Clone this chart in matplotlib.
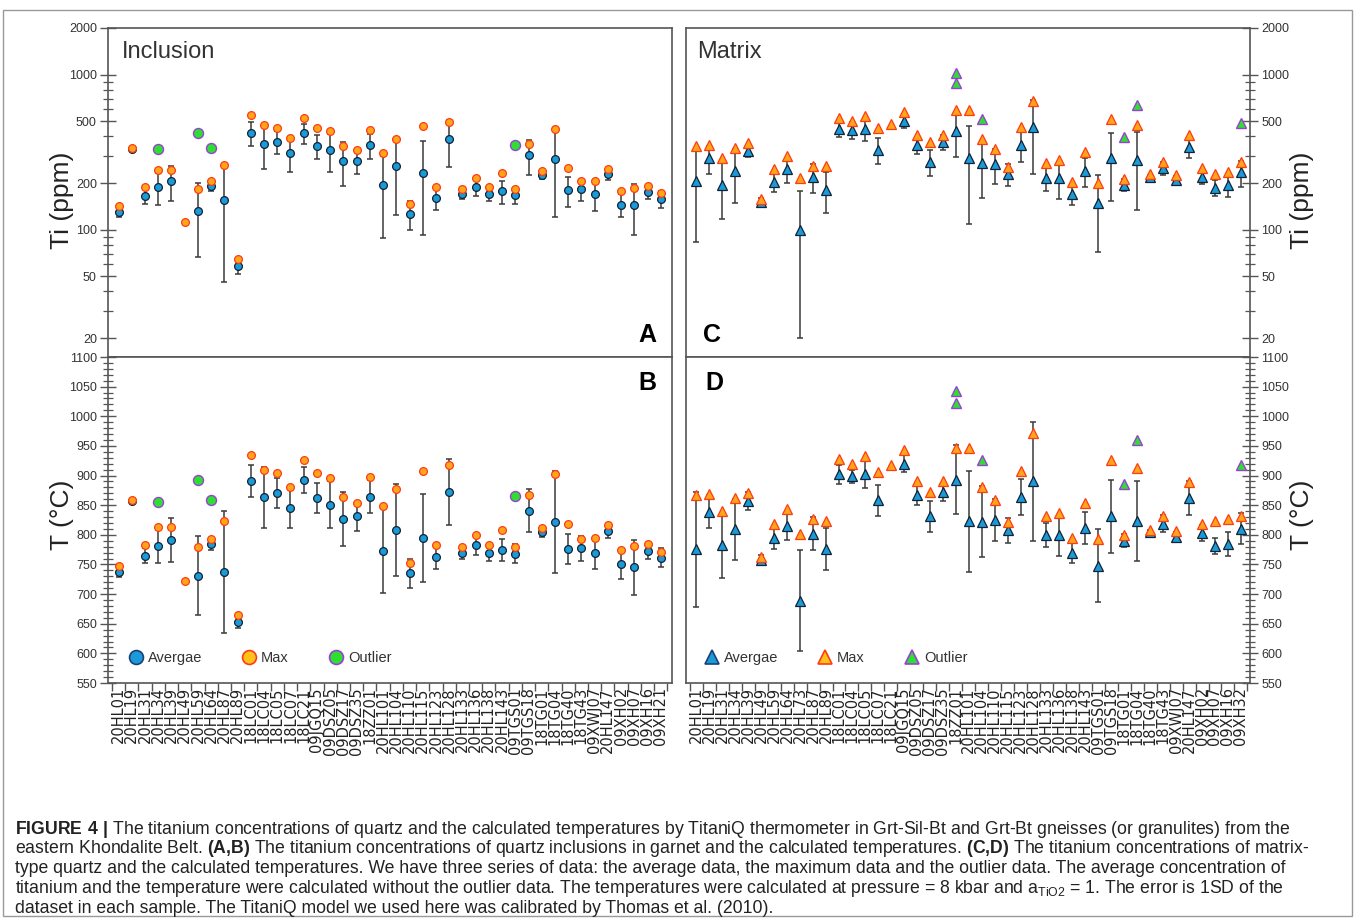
import numpy as np
import matplotlib
matplotlib.use('Agg')
import matplotlib.pyplot as plt
from matplotlib import font_manager
from matplotlib.lines import Line2D
from matplotlib.patches import Rectangle
from matplotlib.ticker import FixedLocator, NullFormatter, MultipleLocator, LogLocator

nan = np.nan

# ---- Inclusion (quartz in garnet) ----
inc_samples = ['20HL01', '20HL19', '20HL31', '20HL34', '20HL39', '20HL49', '20HL59', '20HL64',
               '20HL87', '20HL89', '18LC01', '18LC04', '18LC05', '18LC07', '18LC21', '09JGQ15',
               '09DSZ05', '09DSZ17', '09DSZ35', '18ZZ01', '20HL101', '20HL104', '20HL110',
               '20HL115', '20HL123', '20HL128', '20HL133', '20HL136', '20HL138', '20HL143',
               '09TGS01', '09TGS18', '18TG01', '18TG04', '18TG40', '18TG43', '09XWJ07',
               '20HL147', '09XH02', '09XH07', '09XH16', '09XH21']
inc_ti_avg = [130, 330, 165, 189, 206, nan, 133, 192, 156, 58, 420, 358, 368, 312, 420, 347,
              325, 278, 278, 352, 194, 257, 127, 232, 161, 383, 170, 188, 169, 177, 167, 302,
              225, 285, 180, 182, 171, 228, 145, 145, 175, 158]
inc_ti_sd = [10, 5, 18, 44, 52, nan, 66, 13, 110, 6, 75, 110, 62, 77, 62, 62, 90, 88, 50, 65,
             105, 132, 27, 140, 26, 130, 12, 22, 15, 30, 20, 75, 14, 165, 40, 28, 38, 20, 25,
             52, 17, 19]
inc_ti_max = [142, 338, 188, 242, 242, 112, 184, 206, 262, 65, 549, 471, 452, 390, 523, 456,
              434, 346, 325, 438, 312, 386, 147, 466, 188, 497, 184, 217, 188, 231, 184, 355,
              240, 446, 251, 205, 207, 246, 177, 187, 192, 172]
inc_t_avg = [738, 857, 765, 781, 791, nan, 731, 784, 738, 653, 890, 863, 871, 846, 893, 862,
             851, 827, 831, 864, 773, 808, 735, 795, 763, 872, 770, 782, 769, 774, 768, 841,
             805, 821, 776, 777, 769, 806, 750, 745, 772, 761]
inc_t_sd = [9, 3, 12, 29, 37, nan, 67, 9, 103, 10, 27, 52, 25, 35, 22, 26, 39, 46, 24, 28, 72,
            77, 24, 74, 20, 56, 10, 16, 13, 19, 16, 37, 8, 86, 25, 21, 27, 12, 25, 47, 12, 16]
inc_t_max = [748, 859, 782, 814, 814, 722, 779, 793, 824, 665, 934, 909, 904, 881, 926, 904,
             896, 863, 854, 898, 848, 878, 753, 908, 782, 918, 780, 800, 782, 808, 779, 868,
             812, 902, 819, 793, 794, 817, 775, 781, 785, 771]
inc_out_samples = ['20HL34', '20HL59', '20HL64', '09TGS01']
inc_ti_out = [330, 423, 336, 350]
inc_t_out = [856, 893, 859, 866]

# ---- Matrix quartz ----
mat_samples = ['20HL01', '20HL19', '20HL31', '20HL34', '20HL39', '20HL49', '20HL59', '20HL64',
               '20HL73', '20HL87', '20HL89', '18LC01', '18LC04', '18LC05', '18LC07', '18LC21',
               '09JGQ15', '09DSZ05', '09DSZ17', '09DSZ35', '18ZZ01', '20HL101', '20HL104',
               '20HL110', '20HL115', '20HL123', '20HL128', '20HL133', '20HL136', '20HL138',
               '20HL143', '09TGS01', '09TGS18', '18TG01', '18TG04', '18TG40', '18TG43',
               '09XWJ07', '20HL147', '09XH02', '09XH07', '09XH16', '09XH32']
mat_ti_avg = [205, 288, 195, 240, 323, 151, 203, 245, 99, 218, 181, 443, 438, 446, 327, nan,
              500, 350, 274, 366, 434, 289, 268, 264, 228, 350, 460, 214, 215, 170, 240, 148,
              288, 195, 280, 218, 249, 209, 341, 218, 187, 193, 234]
mat_ti_sd = [122, 60, 77, 92, 30, 10, 28, 46, 79, 46, 53, 45, 55, 70, 63, nan, 50, 43, 52, 40,
             140, 180, 108, 67, 38, 75, 230, 36, 57, 26, 52, 76, 135, 17, 145, 8, 25, 12, 50,
             22, 21, 30, 45]
mat_ti_max = [348, 352, 290, 338, 360, 157, 245, 297, 214, 256, 256, 523, 500, 538, 452, 482,
              571, 408, 368, 408, 589, 592, 385, 334, 252, 460, 680, 270, 281, 204, 317, 201,
              517, 212, 471, 228, 273, 225, 408, 249, 228, 234, 272]
mat_t_avg = [776, 839, 782, 809, 857, 758, 794, 815, 689, 802, 776, 902, 899, 903, 858, nan,
             920, 867, 831, 872, 893, 823, 822, 825, 808, 864, 890, 800, 799, 770, 812, 748,
             831, 790, 823, 804, 819, 797, 862, 803, 781, 785, 810]
mat_t_sd = [97, 28, 55, 52, 15, 8, 18, 23, 85, 28, 35, 16, 11, 24, 26, nan, 14, 16, 26, 15, 58,
            85, 60, 36, 21, 31, 100, 20, 34, 17, 27, 62, 62, 11, 68, 4, 14, 8, 29, 13, 13, 20, 26]
mat_t_max = [867, 869, 841, 862, 871, 763, 818, 843, 801, 827, 824, 928, 920, 933, 906, 917,
             943, 890, 873, 891, 947, 947, 881, 859, 821, 908, 971, 831, 836, 795, 853, 793,
             926, 799, 912, 808, 832, 806, 889, 819, 823, 827, 832]
mat_out_samples = ['18ZZ01', '18ZZ01', '20HL104', '18TG01', '18TG04', '09XH32']
mat_ti_out = [1018, 890, 520, 399, 640, 490]
mat_t_out = [1042, 1022, 926, 886, 960, 917]

ti_ticks = [20, 50, 100, 200, 500, 1000, 2000]
t_ticks = list(range(550, 1101, 50))

AVG_FC, AVG_EC = '#1b9ad8', '#0f2236'
MAX_FC, MAX_EC = '#ffa51c', '#ff3b12'
OUT_FC, OUT_EC = '#2fdf2f', '#9840d4'
SPINE = '#555555'

# narrow font for the caption if there is one
installed = {f.name for f in font_manager.fontManager.ttflist}
cap_font = 'Liberation Sans Narrow' if 'Liberation Sans Narrow' in installed else 'Liberation Sans'

plt.rcParams['font.family'] = ['Liberation Sans', 'DejaVu Sans']
plt.rcParams['mathtext.fontset'] = 'custom'
plt.rcParams['mathtext.rm'] = cap_font
plt.rcParams['mathtext.bf'] = cap_font + ':bold'

W, H = 1355, 918
fig = plt.figure(figsize=(W / 100, H / 100), dpi=100)


def px_axes(x0, y0, x1, y1):
    return fig.add_axes([x0 / W, 1 - y1 / H, (x1 - x0) / W, (y1 - y0) / H])


axA = px_axes(108, 28, 672, 357)
axB = px_axes(108, 357, 672, 683)
axC = px_axes(686, 28, 1250, 357)
axD = px_axes(686, 357, 1250, 683)


def draw_series(ax, samples, avg, sd, mx, out_samples, outs, marker, ms, oms):
    x = np.arange(len(samples))
    ax.errorbar(x, avg, yerr=sd, fmt='none', ecolor='#3a3a3a', elinewidth=1.1,
                capsize=2.4, capthick=1.1, zorder=2)
    ax.plot(x, avg, ls='none', marker=marker, ms=ms, mfc=AVG_FC, mec=AVG_EC, mew=0.9, zorder=3)
    ax.plot(x, mx, ls='none', marker=marker, ms=ms, mfc=MAX_FC, mec=MAX_EC, mew=0.9, zorder=4)
    ox = [samples.index(s) for s in out_samples]
    ax.plot(ox, outs, ls='none', marker=marker, ms=oms, mfc=OUT_FC, mec=OUT_EC, mew=1.0, zorder=5)


def style_axes(ax, n, side, bottom, log):
    for s in ax.spines.values():
        s.set_color(SPINE)
        s.set_linewidth(1.2)
    ax.set_xlim(-0.8, n - 0.15 if n == 42 else n - 0.3)
    left = side == 'left'
    ax.tick_params(axis='y', which='both', direction='inout', colors=SPINE, labelcolor='#333333',
                   labelsize=9, left=left, right=not left, labelleft=left, labelright=not left, pad=2)
    ax.tick_params(axis='y', which='major', length=12, width=1)
    ax.tick_params(axis='y', which='minor', length=7, width=0.9)
    if log:
        ax.set_yscale('log')
        ax.set_ylim(15.1, 2000)
        ax.yaxis.set_major_locator(FixedLocator(ti_ticks))
        ax.set_yticklabels([str(t) for t in ti_ticks])
        ax.yaxis.set_minor_locator(LogLocator(base=10, subs=np.arange(2, 10)))
        ax.yaxis.set_minor_formatter(NullFormatter())
    else:
        ax.set_ylim(550, 1100)
        ax.set_yticks(t_ticks)
        ax.yaxis.set_minor_locator(MultipleLocator(10))
    ax.set_xticks(np.arange(n))
    ax.set_xticks(np.arange(n + 1) - 0.5, minor=True)
    if bottom:
        ax.set_xticklabels(inc_samples if n == 42 else mat_samples, rotation=90,
                           fontsize=10.5, family='DejaVu Sans', color='#222222')
        ax.tick_params(axis='x', which='major', length=0, pad=3)
        ax.tick_params(axis='x', which='minor', direction='out', length=6, width=1, colors=SPINE)
    else:
        ax.tick_params(axis='x', which='both', bottom=False, labelbottom=False)


draw_series(axA, inc_samples, inc_ti_avg, inc_ti_sd, inc_ti_max, inc_out_samples, inc_ti_out,
            'o', 5.6, 7.2)
draw_series(axB, inc_samples, inc_t_avg, inc_t_sd, inc_t_max, inc_out_samples, inc_t_out,
            'o', 5.6, 7.2)
draw_series(axC, mat_samples, mat_ti_avg, mat_ti_sd, mat_ti_max, mat_out_samples, mat_ti_out,
            '^', 6.6, 7.8)
draw_series(axD, mat_samples, mat_t_avg, mat_t_sd, mat_t_max, mat_out_samples, mat_t_out,
            '^', 6.6, 7.8)

style_axes(axA, 42, 'left', False, True)
style_axes(axB, 42, 'left', True, False)
style_axes(axC, 43, 'right', False, True)
style_axes(axD, 43, 'right', True, False)

# panel titles and letters
axA.text(0.025, 0.927, 'Inclusion', transform=axA.transAxes, fontsize=17, color='#333333',
         ha='left', va='center')
axC.text(0.019, 0.927, 'Matrix', transform=axC.transAxes, fontsize=17, color='#333333',
         ha='left', va='center')
for ax, lab, xf, yf in [(axA, 'A', 0.956, 0.067), (axB, 'B', 0.956, 0.92),
                        (axC, 'C', 0.046, 0.067), (axD, 'D', 0.05, 0.92)]:
    ax.text(xf, yf, lab, transform=ax.transAxes, fontsize=18, fontweight='bold',
            ha='center', va='center', color='black')

# y labels
for xp in (62, 1302):
    fig.text(xp / W, 1 - 200 / H, 'Ti (ppm)', rotation=90, fontsize=19, ha='center',
             va='center', color='#222222')
    fig.text(xp / W, 1 - 515 / H, 'T (\u00b0C)', rotation=90, fontsize=19, ha='center',
             va='center', color='#222222')

# legends
for ax, mk, xa in [(axB, 'o', 0.0367), (axD, '^', 0.033)]:
    handles = [Line2D([], [], ls='none', marker=mk, ms=10, mfc=fc, mec=ec, mew=1.2)
               for fc, ec in [(AVG_FC, '#1c3f7a'), ('#ffc21a', MAX_EC), (OUT_FC, OUT_EC)]]
    ax.legend(handles, ['Avergae', 'Max', 'Outlier'], ncol=3, loc='center left',
              bbox_to_anchor=(xa, 0.077), frameon=False, fontsize=10.5, handlelength=1,
              handletextpad=0.3, columnspacing=2.75, borderpad=0, borderaxespad=0,
              labelcolor='#333333')

# caption
caption = [
    r'$\mathbf{FIGURE\ 4\ |}$ The titanium concentrations of quartz and the calculated temperatures by '
    r'TitaniQ thermometer in Grt-Sil-Bt and Grt-Bt gneisses (or granulites) from the',
    r'eastern Khondalite Belt. $\mathbf{(A{,}B)}$ The titanium concentrations of quartz inclusions in '
    r'garnet and the calculated temperatures. $\mathbf{(C{,}D)}$ The titanium concentrations of matrix-',
    'type quartz and the calculated temperatures. We have three series of data: the average data, '
    'the maximum data and the outlier data. The average concentration of',
    r'titanium and the temperature were calculated without the outlier data. The temperatures were '
    r'calculated at pressure = 8 kbar and a$_{\mathrm{TiO2}}$ = 1. The error is 1SD of the',
    'dataset in each sample. The TitaniQ model we used here was calibrated by Thomas et al. (2010).',
]
cap_texts = []
for k, line in enumerate(caption):
    cap_texts.append(fig.text(15 / W, 1 - (829 + 19.8 * k) / H, line, fontsize=11,
                              family=cap_font, ha='left', va='center', color='#222222'))
fig.canvas.draw()
r = fig.canvas.get_renderer()
w0 = cap_texts[0].get_window_extent(r).width
scale = 1275 / w0
for t in cap_texts:
    t.set_fontsize(11 * scale)

fig.patches.append(Rectangle((3 / W, 2 / H), (W - 6) / W, (H - 12) / H, transform=fig.transFigure,
                             fill=False, ec='#999999', lw=1))

fig.savefig('out.png', dpi=100)
